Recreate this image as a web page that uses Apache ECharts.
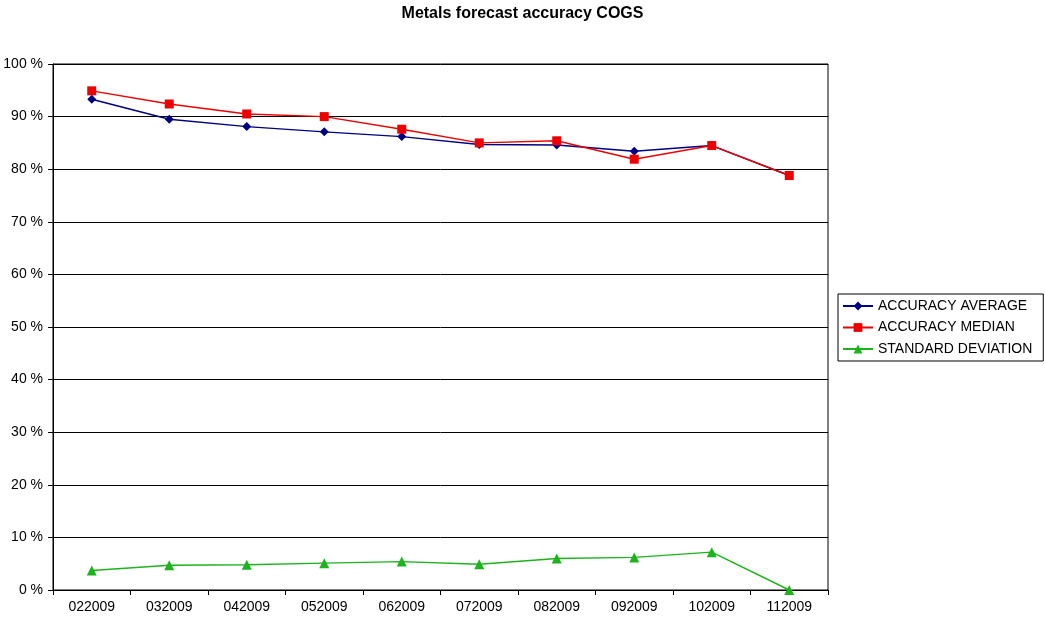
<!DOCTYPE html>
<html>
<head>
<meta charset="utf-8">
<script src="https://cdn.jsdelivr.net/npm/echarts@6/dist/echarts.min.js"></script>
<style>html,body{margin:0;padding:0;background:#fff}#c{width:1045px;height:620px}</style>
</head>
<body>
<div id="c"></div>
<script>
const categories = ['022009','032009','042009','052009','062009','072009','082009','092009','102009','112009'];
const accuracyAverage = [93.3, 89.5, 88.1, 87.1, 86.2, 84.7, 84.6, 83.4, 84.5, 78.8];
const accuracyMedian = [94.9, 92.4, 90.5, 90.0, 87.6, 85.0, 85.4, 81.9, 84.5, 78.8];
const standardDeviation = [3.7, 4.7, 4.8, 5.1, 5.4, 4.9, 6.0, 6.2, 7.2, 0];
const seriesNames = ['ACCURACY AVERAGE','ACCURACY MEDIAN','STANDARD DEVIATION'];

const FONT = 'Liberation Sans, Arial, sans-serif';
const chart = echarts.init(document.getElementById('c'), null, {renderer:'canvas'});
function mk(name, data, color, symbol, size){
  return {name, type:'line', data, symbol, symbolSize:size, showAllSymbol:true,
    lineStyle:{color, width:1.4}, itemStyle:{color}, emphasis:{disabled:true}, animation:false};
}
chart.setOption({
  animation:false,
  title:{text:'Metals forecast accuracy COGS', left:'center', top:1,
    textStyle:{fontFamily:FONT, fontSize:16, fontWeight:'bold', color:'#000'}},
  grid:{left:53, right:217, top:64, bottom:30, show:true, borderColor:'#000', borderWidth:1},
  legend:{orient:'vertical', left:838, top:294, width:205, padding:[5,11,5,4],
    borderColor:'#000', borderWidth:1, itemGap:7.5, itemWidth:30, itemHeight:11,
    textStyle:{fontFamily:FONT, fontSize:14, color:'#000'},
    data:seriesNames},
  xAxis:{type:'category', data:categories, boundaryGap:true,
    axisLine:{lineStyle:{color:'#000', width:1}},
    axisTick:{show:true, alignWithLabel:false, length:5, lineStyle:{color:'#000'}},
    axisLabel:{fontFamily:FONT, fontSize:14, color:'#000', margin:10, interval:0}},
  yAxis:{type:'value', min:0, max:100, interval:10,
    axisLine:{show:true, lineStyle:{color:'#000'}},
    axisTick:{show:true, length:5, lineStyle:{color:'#000'}},
    axisLabel:{formatter:'{value} %', fontFamily:FONT, fontSize:14, color:'#000', margin:10},
    splitLine:{show:true, lineStyle:{color:'#000', width:1}}},
  series:[
    mk(seriesNames[0], accuracyAverage, '#000080', 'diamond', 9),
    mk(seriesNames[1], accuracyMedian, '#ee0000', 'rect', 9),
    mk(seriesNames[2], standardDeviation, '#1db31d', 'triangle', 10)
  ]
});
</script>
</body>
</html>
